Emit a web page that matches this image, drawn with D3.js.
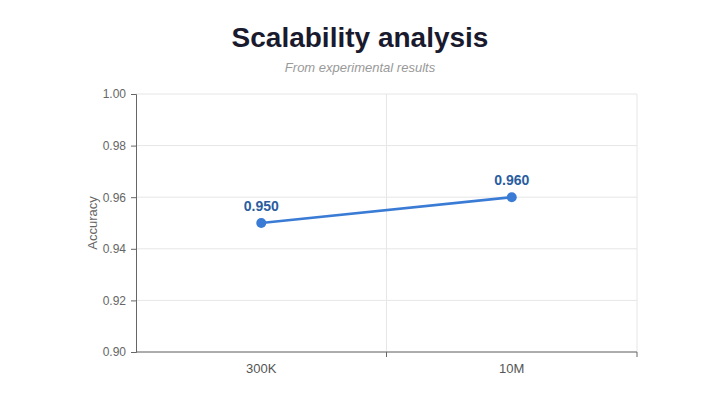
<!DOCTYPE html>
<html>
<head>
<meta charset="utf-8">
<script src="https://cdn.jsdelivr.net/npm/d3@7"></script>
<style>
    body { margin: 0; background: #fff; }
    text { font-family: "Liberation Sans", Arial, sans-serif; }
</style>
</head>
<body>
<div id="chart-div"></div>
<script>

const categories = ["300K", "10M"];
const accuracy = [0.950, 0.960];
const yTicks = [0.90, 0.92, 0.94, 0.96, 0.98, 1.00];

const svgDims = { width: 720, height: 405 };
const margin = { top: 94, right: 83, bottom: 53, left: 136 };

const svg = d3.select("#chart-div")
    .append("svg")
    .attr("width", svgDims.width)
    .attr("height", svgDims.height);

const width = svgDims.width - margin.left - margin.right;
const height = svgDims.height - margin.top - margin.bottom;
const g = svg.append("g").attr("transform", "translate(" + margin.left + "," + margin.top + ")");

// Title and subtitle
svg.append("text")
    .attr("x", 360).attr("y", 47)
    .attr("text-anchor", "middle")
    .style("font-size", "28px").style("font-weight", "bold")
    .style("fill", "#1a1a2e")
    .text("Scalability analysis");

svg.append("text")
    .attr("x", 360).attr("y", 72)
    .attr("text-anchor", "middle")
    .style("font-size", "13px").style("font-style", "italic")
    .style("fill", "#999")
    .text("From experimental results");

const xScale = d3.scaleBand()
    .domain(categories)
    .range([0, width]);

const yScale = d3.scaleLinear()
    .domain([0.90, 1.00])
    .range([height, 0]);

// Horizontal grid
g.append("g").selectAll("line").data(yTicks).enter().append("line")
    .attr("x1", 0).attr("x2", width)
    .attr("y1", d => yScale(d)).attr("y2", d => yScale(d))
    .style("stroke", "#e6e6e6");

// Vertical grid at band boundaries
const bounds = categories.map(c => xScale(c) + xScale.bandwidth());
g.append("g").selectAll("line").data(bounds).enter().append("line")
    .attr("x1", d => d).attr("x2", d => d)
    .attr("y1", 0).attr("y2", height)
    .style("stroke", "#e6e6e6");

// Y axis
const yGroup = g.append("g")
    .call(d3.axisLeft(yScale).tickValues(yTicks).tickFormat(d3.format(".2f")).tickSize(5).tickPadding(5));
yGroup.select(".domain").style("stroke", "#666");
yGroup.selectAll(".tick line").style("stroke", "#666");
yGroup.selectAll("text").style("font-size", "12px").style("fill", "#666")
    .style("font-family", "'Liberation Sans', Arial, sans-serif");

// X axis with ticks at band boundaries
const xGroup = g.append("g")
    .attr("transform", "translate(0," + height + ")");
xGroup.append("line")
    .attr("x1", 0).attr("x2", width)
    .style("stroke", "#666");
xGroup.selectAll(".btick").data(bounds).enter().append("line")
    .attr("x1", d => d).attr("x2", d => d)
    .attr("y1", 0).attr("y2", 5)
    .style("stroke", "#666");
xGroup.selectAll(".xlabel").data(categories).enter().append("text")
    .attr("x", d => xScale(d) + xScale.bandwidth() / 2)
    .attr("y", 21)
    .attr("text-anchor", "middle")
    .style("font-size", "13px").style("fill", "#555")
    .text(d => d);

// Axis title
svg.append("text")
    .attr("transform", "translate(97," + (margin.top + height / 2) + ") rotate(-90)")
    .attr("text-anchor", "middle")
    .style("font-size", "13px").style("fill", "#666")
    .text("Accuracy");

const points = categories.map((c, i) => ({ cat: c, value: accuracy[i] }));
const cx = d => xScale(d.cat) + xScale.bandwidth() / 2;

// Line
g.append("path")
    .datum(points)
    .attr("d", d3.line().x(cx).y(d => yScale(d.value)))
    .style("fill", "none")
    .style("stroke", "#3a7bd5")
    .style("stroke-width", 2.5);

// Points
g.selectAll("circle").data(points).enter().append("circle")
    .attr("cx", cx)
    .attr("cy", d => yScale(d.value))
    .attr("r", 5)
    .style("fill", "#3a7bd5");

// Value labels
g.selectAll(".val").data(points).enter().append("text")
    .attr("x", cx)
    .attr("y", d => yScale(d.value) - 12)
    .attr("text-anchor", "middle")
    .style("font-size", "14px").style("font-weight", "bold")
    .style("fill", "#2a5d9f")
    .text(d => d3.format(".3f")(d.value));

</script>
</body>
</html>
